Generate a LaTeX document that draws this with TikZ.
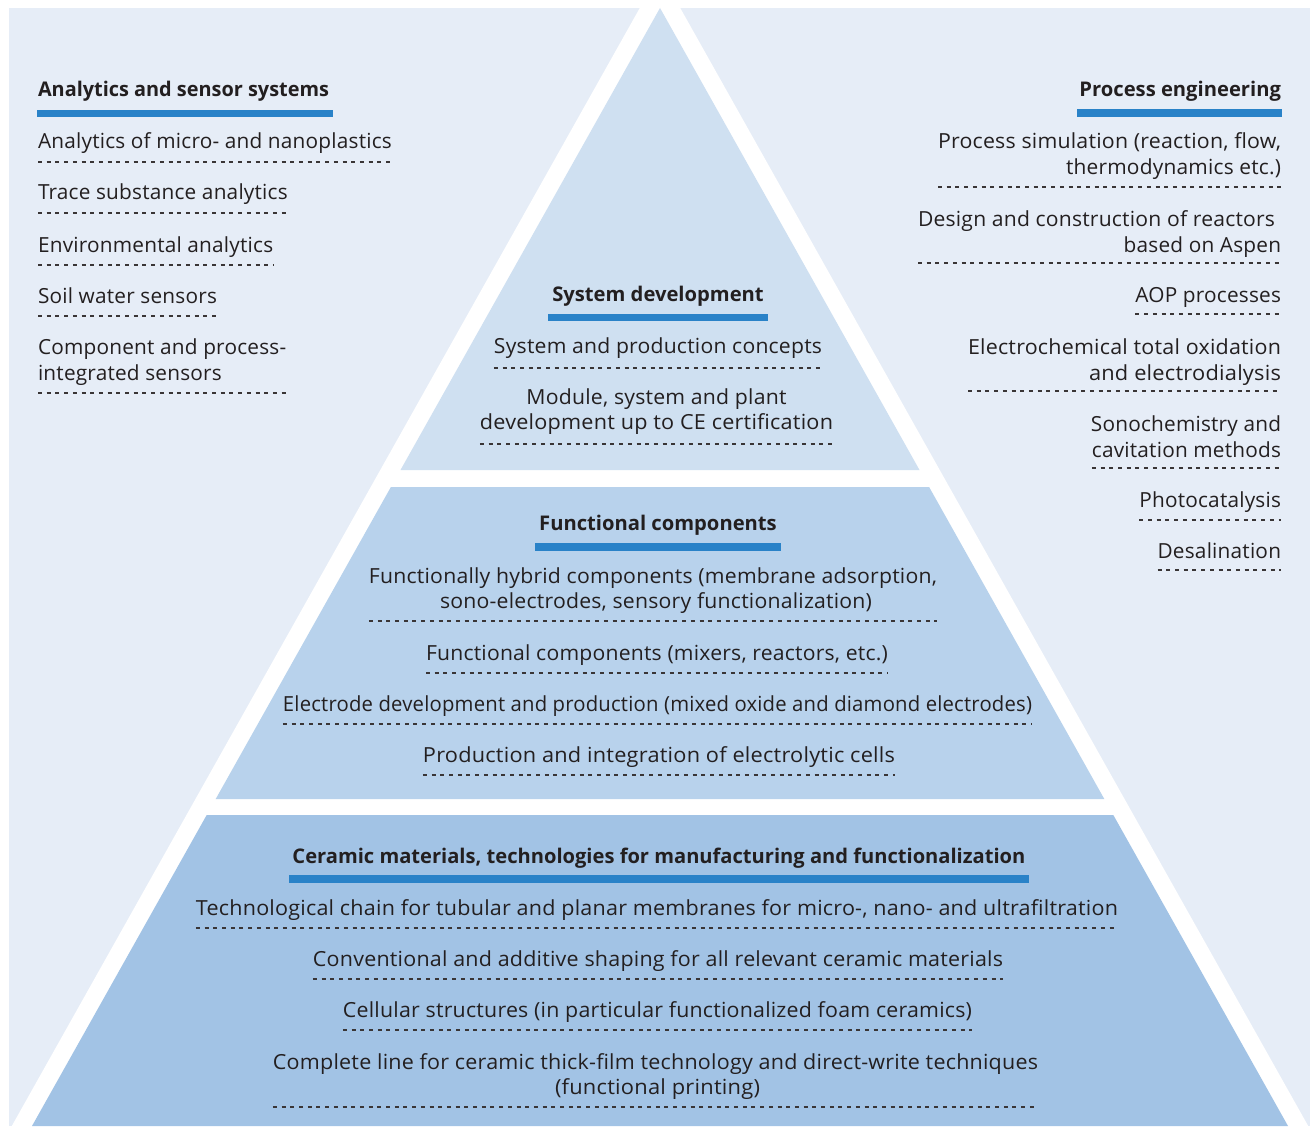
\documentclass[tikz,border=0pt]{standalone}
\usepackage{fontspec}
\usepackage{graphicx}
\setmainfont{Open Sans}[LetterSpace=1.0]
\newfontfamily\ttlfont{Open Sans}
\usetikzlibrary{calc}
\definecolor{bgc}{RGB}{230,237,247}
\definecolor{bandA}{RGB}{207,224,241}
\definecolor{bandB}{RGB}{184,210,236}
\definecolor{bandC}{RGB}{162,195,229}
\definecolor{barc}{RGB}{41,130,200}
\definecolor{txt}{RGB}{35,31,32}
\newcommand{\fitw}[2]{\resizebox{#1pt}{\height}{#2}}
\begin{document}
\begin{tikzpicture}[x=1pt,y=-1pt,
 every node/.style={inner sep=0pt, outer sep=0pt, text=txt, font=\fontsize{20.8}{25}\selectfont},
 ttl/.style={font=\ttlfont\fontsize{20.2}{25}\selectfont\bfseries},
 bar/.style={draw=barc, line width=7.5pt},
 dl/.style={draw=txt!90, line width=1.2pt, dash pattern=on 4pt off 4.7pt},
 lw/.style={anchor=base west},
 re/.style={anchor=base east},
 ce/.style={anchor=base},
]
\useasboundingbox (0,0) rectangle (1313,1126);
\fill[white] (0,0) rectangle (1313,1126);
\fill[bgc] (9,8) rectangle (1310,1126);
\begin{scope}
\clip (9,8) rectangle (1310,1126);
\fill[white] (660,-28) -- (11.8,1126) -- (1308.2,1126) -- cycle;
\end{scope}
\fill[bandA] (660,8) -- (919.5,470) -- (400.5,470) -- cycle;
\fill[bandB] (390.9,487) -- (929.1,487) -- (1104.3,799) -- (215.7,799) -- cycle;
\fill[bandC] (206.7,815) -- (1113.3,815) -- (1288,1126) -- (32,1126) -- cycle;

% ---------- left column ----------
\node[ttl,lw] (lt) at (38,97) {\fitw{291}{Analytics and sensor systems}};
\draw[bar] ($(lt.west |- 0,113.5)+(-1pt,0)$) -- ($(lt.east |- 0,113.5)+(4pt,0)$);
\node[lw] (l1) at (38,149) {Analytics of micro- and nanoplastics};
\draw[dl] (l1.west |- 0,162) -- (l1.east |- 0,162);
\node[lw] (l2) at (38,200) {Trace substance analytics};
\draw[dl] (l2.west |- 0,213) -- (l2.east |- 0,213);
\node[lw] (l3) at (38,252) {Environmental analytics};
\draw[dl] (l3.west |- 0,265) -- (l3.east |- 0,265);
\node[lw] (l4) at (38,303) {Soil water sensors};
\draw[dl] (l4.west |- 0,316) -- (l4.east |- 0,316);
\node[lw] (l5a) at (38,354) {Component and process-};
\node[lw] (l5b) at (38,380) {integrated sensors};
\draw[dl] (l5a.west |- 0,393) -- (l5a.east |- 0,393);

% ---------- right column ----------
\node[ttl,re] (rt) at (1281,97) {Process engineering};
\draw[bar] ($(rt.west |- 0,113)+(-2pt,0)$) -- ($(rt.east |- 0,113)+(1pt,0)$);
\node[re] (r1a) at (1281,149) {\fitw{343}{Process simulation (reaction, flow,}};
\node[re] (r1b) at (1281,175) {\fitw{215}{thermodynamics etc.)}};
\draw[dl] (r1a.west |- 0,187) -- (r1a.east |- 0,187);
\node[re] (r2a) at (1275,226) {\fitw{357}{Design and construction of reactors}};
\node[re] (r2b) at (1281,252) {based on Aspen};
\draw[dl] (r2a.west |- 0,263) -- (r2b.east |- 0,263);
\node[re] (r3) at (1281,302) {AOP processes};
\draw[dl] (r3.west |- 0,314) -- (r3.east |- 0,314);
\node[re] (r4a) at (1281,354) {\fitw{313}{Electrochemical total oxidation}};
\node[re] (r4b) at (1281,380) {\fitw{192}{and electrodialysis}};
\draw[dl] (r4a.west |- 0,391) -- (r4a.east |- 0,391);
\node[re] (r5a) at (1281,431) {Sonochemistry and};
\node[re] (r5b) at (1281,457) {cavitation methods};
\draw[dl] (r5b.west |- 0,468) -- (r5b.east |- 0,468);
\node[re] (r6) at (1281,507) {Photocatalysis};
\draw[dl] (r6.west |- 0,520) -- (r6.east |- 0,520);
\node[re] (r7) at (1281,558) {Desalination};
\draw[dl] (r7.west |- 0,570) -- (r7.east |- 0,570);

% ---------- top band ----------
\node[ttl,ce] (st) at (658,301) {System development};
\draw[bar] ($(st.west |- 0,317.5)+(-4pt,0)$) -- ($(st.east |- 0,317.5)+(4pt,0)$);
\node[ce] (s1) at (658,353) {\fitw{328}{System and production concepts}};
\draw[dl] (s1.west |- 0,368) -- (s1.east |- 0,368);
\node[ce] (s2a) at (656.5,404) {\fitw{260}{Module, system and plant}};
\node[ce] (s2b) at (656.5,429) {\fitw{353}{development up to CE certification}};
\draw[dl] (s2b.west |- 0,444) -- (s2b.east |- 0,444);

% ---------- middle band ----------
\node[ttl,ce] (ft) at (658,530) {Functional components};
\draw[bar] ($(ft.west |- 0,547)+(-4pt,0)$) -- ($(ft.east |- 0,547)+(4pt,0)$);
\node[ce] (f1a) at (653,583) {\fitw{568}{Functionally hybrid components (membrane adsorption,}};
\node[ce] (f1b) at (656,608) {\fitw{432}{sono-electrodes, sensory functionalization)}};
\draw[dl] (f1a.west |- 0,621) -- (f1a.east |- 0,621);
\node[ce] (f2) at (657,660) {\fitw{462}{Functional components (mixers, reactors, etc.)}};
\draw[dl] (f2.west |- 0,673) -- (f2.east |- 0,673);
\node[ce] (f3) at (657.5,711) {\fitw{749}{Electrode development and production (mixed oxide and diamond electrodes)}};
\draw[dl] (f3.west |- 0,724) -- (f3.east |- 0,724);
\node[ce] (f4) at (659,762) {\fitw{472}{Production and integration of electrolytic cells}};
\draw[dl] (f4.west |- 0,775) -- (f4.east |- 0,775);

% ---------- bottom band ----------
\node[ttl,ce] (ct) at (659,863) {\fitw{733}{Ceramic materials, technologies for manufacturing and functionalization}};
\draw[bar] ($(ct.west |- 0,879)+(-3pt,0)$) -- ($(ct.east |- 0,879)+(3pt,0)$);
\node[ce] (c1) at (657,915) {\fitw{922}{Technological chain for tubular and planar membranes for micro-, nano- and ultrafiltration}};
\draw[dl] (c1.west |- 0,928) -- (c1.east |- 0,928);
\node[ce] (c2) at (658,966) {\fitw{690}{Conventional and additive shaping for all relevant ceramic materials}};
\draw[dl] (c2.west |- 0,979) -- (c2.east |- 0,979);
\node[ce] (c3) at (657.5,1017) {\fitw{629}{Cellular structures (in particular functionalized foam ceramics)}};
\draw[dl] (c3.west |- 0,1030) -- (c3.east |- 0,1030);
\node[ce] (c4a) at (655.5,1069) {\fitw{765}{Complete line for ceramic thick-film technology and direct-write techniques}};
\node[ce] (c4b) at (657.5,1094) {\fitw{205}{(functional printing)}};
\draw[dl] (c4a.west |- 0,1107) -- (c4a.east |- 0,1107);
\end{tikzpicture}
\end{document}
